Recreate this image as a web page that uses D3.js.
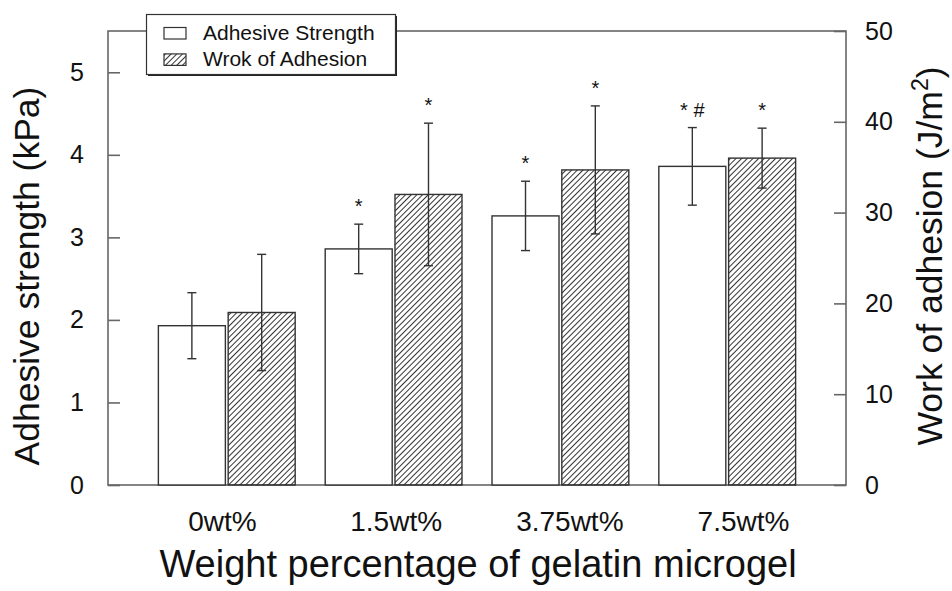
<!DOCTYPE html>
<html>
<head>
<meta charset="utf-8">
<script src="https://cdn.jsdelivr.net/npm/d3@7"></script>
<style>
  body { margin: 0; background: #fff; }
  text { font-family: "Liberation Sans", Arial, sans-serif; fill: #111; }
</style>
</head>
<body>
<svg id="chart" width="952" height="591"></svg>
<script>
// data
var categories = ["0wt%", "1.5wt%", "3.75wt%", "7.5wt%"];
var strength = [1.93, 2.86, 3.26, 3.86];      // kPa, left axis
var strengthErr = [0.40, 0.30, 0.42, 0.47];
var work = [19.0, 32.0, 34.7, 36.0];          // J/m2, right axis
var workErr = [6.4, 7.85, 7.05, 3.3];
var strengthMarks = ["", "*", "*", "* #"];
var workMarks = ["", "*", "*", "*"];
var leftTicks = [0, 1, 2, 3, 4, 5];
var rightTicks = [0, 10, 20, 30, 40, 50];

var svg = d3.select("#chart");
// plot box (note: "top" is taken by window.top, so use p* names)
var pLeft = 108, pRight = 846, pTop = 31, pBottom = 485;

var yL = d3.scaleLinear().domain([0, 5.5]).range([pBottom, pTop]);
var yR = d3.scaleLinear().domain([0, 50]).range([pBottom, pTop]);

var x = d3.scaleBand().domain(categories).range([pLeft, pRight])
  .paddingInner(0.18).paddingOuter(0.302);
var sub = d3.scaleBand().domain(["strength", "work"]).range([0, x.bandwidth()])
  .paddingInner(0.04);
// tick labels in the figure sit a little off the bar centres
var labelX = d3.scalePoint().domain(categories).range([222, 743]);

// hatch pattern
var defs = svg.append("defs");
defs.append("pattern")
  .attr("id", "hatch")
  .attr("patternUnits", "userSpaceOnUse")
  .attr("width", 4).attr("height", 4)
  .attr("patternTransform", "rotate(45)")
  .append("line")
  .attr("x1", 0).attr("y1", 0).attr("x2", 0).attr("y2", 4)
  .attr("stroke", "#000").attr("stroke-width", 1.6);

// frame
svg.append("rect")
  .attr("x", pLeft).attr("y", pTop)
  .attr("width", pRight - pLeft).attr("height", pBottom - pTop)
  .attr("fill", "none").attr("stroke", "#666").attr("stroke-width", 1.6);

// build one row per bar
var rows = [];
categories.forEach(function(c, i) {
  rows.push({cat: c, key: "strength", v: strength[i], e: strengthErr[i], mark: strengthMarks[i], y: yL});
  rows.push({cat: c, key: "work", v: work[i], e: workErr[i], mark: workMarks[i], y: yR});
});

var g = svg.append("g");

g.selectAll("rect.bar")
  .data(rows)
  .enter()
  .append("rect")
  .attr("class", "bar")
  .attr("x", function(d) { return x(d.cat) + sub(d.key); })
  .attr("y", function(d) { return d.y(d.v); })
  .attr("width", sub.bandwidth())
  .attr("height", function(d) { return pBottom - d.y(d.v); })
  .attr("fill", function(d) { return d.key == "work" ? "url(#hatch)" : "#fff"; })
  .attr("stroke", "#333")
  .attr("stroke-width", 1.4);

// error bars
var cap = 4.5;
var err = g.selectAll("g.err")
  .data(rows)
  .enter()
  .append("g")
  .attr("class", "err")
  .attr("stroke", "#333")
  .attr("stroke-width", 1.4);

function cx(d) { return x(d.cat) + sub(d.key) + sub.bandwidth() / 2; }

err.append("line")
  .attr("x1", cx).attr("x2", cx)
  .attr("y1", function(d) { return d.y(d.v - d.e); })
  .attr("y2", function(d) { return d.y(d.v + d.e); });
err.append("line")
  .attr("x1", function(d) { return cx(d) - cap; })
  .attr("x2", function(d) { return cx(d) + cap; })
  .attr("y1", function(d) { return d.y(d.v + d.e); })
  .attr("y2", function(d) { return d.y(d.v + d.e); });
err.append("line")
  .attr("x1", function(d) { return cx(d) - cap; })
  .attr("x2", function(d) { return cx(d) + cap; })
  .attr("y1", function(d) { return d.y(d.v - d.e); })
  .attr("y2", function(d) { return d.y(d.v - d.e); });

// significance marks
g.selectAll("text.mark")
  .data(rows.filter(function(d) { return d.mark; }))
  .enter()
  .append("text")
  .attr("class", "mark")
  .attr("x", cx)
  .attr("y", function(d) { return d.y(d.v + d.e) - 11; })
  .attr("text-anchor", "middle")
  .style("font-size", "20px")
  .text(function(d) { return d.mark; });

// axes
var axL = svg.append("g")
  .attr("transform", "translate(" + pLeft + ",0)")
  .call(d3.axisLeft(yL).tickValues(leftTicks).tickFormat(d3.format("d"))
    .tickSize(-12).tickSizeOuter(0).tickPadding(24));
var axR = svg.append("g")
  .attr("transform", "translate(" + pRight + ",0)")
  .call(d3.axisRight(yR).tickValues(rightTicks).tickFormat(d3.format("d"))
    .tickSize(-12).tickSizeOuter(0).tickPadding(19));
[axL, axR].forEach(function(a) {
  a.select(".domain").remove();
  a.selectAll(".tick line").attr("stroke", "#666").attr("stroke-width", 1.6);
  a.selectAll(".tick text").style("font-size", "25px").attr("fill", "#111")
    .style("font-family", '"Liberation Sans", Arial, sans-serif');
});

var axB = svg.append("g")
  .attr("transform", "translate(0," + pBottom + ")")
  .call(d3.axisBottom(labelX).tickSize(0).tickPadding(26));
axB.select(".domain").remove();
axB.selectAll(".tick text").style("font-size", "28px").attr("fill", "#111")
  .style("font-family", '"Liberation Sans", Arial, sans-serif');

// axis titles
svg.append("text")
  .attr("transform", "translate(39,276) rotate(-90)")
  .attr("text-anchor", "middle")
  .style("font-size", "35.5px")
  .text("Adhesive strength (kPa)");

var rt = svg.append("text")
  .attr("transform", "translate(942,256) rotate(-90)")
  .attr("text-anchor", "middle")
  .style("font-size", "35.5px");
rt.append("tspan").text("Work of adhesion (J/m");
rt.append("tspan").attr("dy", -14).style("font-size", "23px").text("2");
rt.append("tspan").attr("dy", 14).text(")");

svg.append("text")
  .attr("x", (pLeft + pRight) / 2 + 1)
  .attr("y", 577)
  .attr("text-anchor", "middle")
  .style("font-size", "38px")
  .text("Weight percentage of gelatin microgel");

// legend
var legend = svg.append("g");
legend.append("rect")
  .attr("x", 148).attr("y", 16).attr("width", 249).attr("height", 60)
  .attr("fill", "#222");
legend.append("rect")
  .attr("x", 146.5).attr("y", 14.5).attr("width", 249).attr("height", 60)
  .attr("fill", "#fff").attr("stroke", "#333").attr("stroke-width", 1.2);

var legendItems = [
  {label: "Adhesive Strength", fill: "#fff"},
  {label: "Wrok of Adhesion", fill: "url(#hatch)"}
];
var li = legend.selectAll("g.item")
  .data(legendItems)
  .enter()
  .append("g")
  .attr("class", "item")
  .attr("transform", function(d, i) { return "translate(0," + (i * 26.4) + ")"; });
li.append("rect")
  .attr("x", 164).attr("y", 27.5).attr("width", 22).attr("height", 11.5)
  .attr("fill", function(d) { return d.fill; })
  .attr("stroke", "#333").attr("stroke-width", 1.2);
li.append("text")
  .attr("x", 203).attr("y", 39.5)
  .style("font-size", "21px")
  .text(function(d) { return d.label; });
</script>
</body>
</html>
